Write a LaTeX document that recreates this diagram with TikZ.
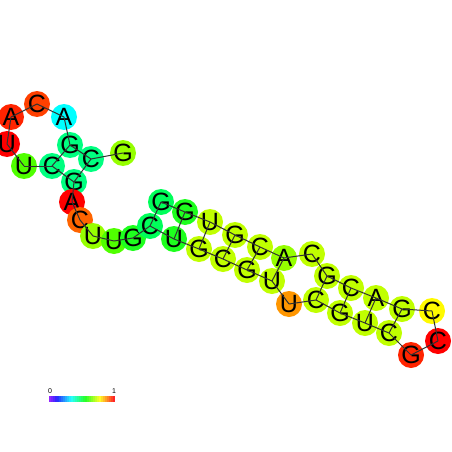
\documentclass[tikz,border=0pt]{standalone}
\usepackage{fontspec}
\setmainfont{Liberation Sans}
\usetikzlibrary{positioning}
\definecolor{rnaRed}{RGB}{255,0,0}
\definecolor{rnaScarlet}{RGB}{255,36,0}
\definecolor{rnaVermilion}{RGB}{255,64,0}
\definecolor{rnaTangerine}{RGB}{255,100,0}
\definecolor{rnaOrange}{RGB}{255,150,0}
\definecolor{rnaYellow}{RGB}{255,250,0}
\definecolor{rnaChartreuse}{RGB}{192,255,0}
\definecolor{rnaLime}{RGB}{150,255,0}
\definecolor{rnaLeaf}{RGB}{80,255,0}
\definecolor{rnaGreen}{RGB}{30,255,30}
\definecolor{rnaMint}{RGB}{0,255,90}
\definecolor{rnaSpring}{RGB}{0,255,128}
\definecolor{rnaCyan}{RGB}{0,255,255}
\definecolor{rnaLine}{RGB}{50,50,50}
\newcommand{\ntchar}[1]{\makebox[0pt]{\smash{\raisebox{-.5\height}{#1}}}}

\begin{document}
\begin{tikzpicture}[x=1pt, y=-1pt,
    ntbox/.style={circle, inner sep=0pt, minimum size=26pt,
                  font=\fontsize{25}{25}\selectfont},
    bond/.style={line width=1pt, rnaLine}
  ]
  \useasboundingbox (0,0) rectangle (452,452);
  % bases, 5' to 3'
  \node[ntbox, fill=rnaLime]       (nt1)  at (123,153) {\ntchar{G}};
  \node[ntbox, fill=rnaSpring]     (nt2)  at ( 91,159) {\ntchar{C}};
  \node[ntbox, fill=rnaSpring]     (nt3)  at ( 70,145) {\ntchar{G}};
  \node[ntbox, fill=rnaCyan]       (nt4)  at ( 64,117) {\ntchar{A}};
  \node[ntbox, fill=rnaVermilion]  (nt5)  at ( 37,104) {\ntchar{C}};
  \node[ntbox, fill=rnaScarlet]    (nt6)  at ( 11,117) {\ntchar{A}};
  \node[ntbox, fill=rnaRed]        (nt7)  at (  7,144) {\ntchar{U}};
  \node[ntbox, fill=rnaLeaf]       (nt8)  at ( 24,166) {\ntchar{U}};
  \node[ntbox, fill=rnaSpring]     (nt9)  at ( 52,166) {\ntchar{C}};
  \node[ntbox, fill=rnaSpring]     (nt10) at ( 74,182) {\ntchar{G}};
  \node[ntbox, fill=rnaRed]        (nt11) at ( 72,202) {\ntchar{A}};
  \node[ntbox, fill=rnaTangerine]  (nt12) at ( 80,220) {\ntchar{C}};
  \node[ntbox, fill=rnaLime]       (nt13) at ( 93,236) {\ntchar{U}};
  \node[ntbox, fill=rnaLeaf]       (nt14) at (114,241) {\ntchar{U}};
  \node[ntbox, fill=rnaGreen]      (nt15) at (133,238) {\ntchar{G}};
  \node[ntbox, fill=rnaMint]       (nt16) at (150,226) {\ntchar{C}};
  \node[ntbox, fill=rnaGreen]      (nt17) at (174,239) {\ntchar{U}};
  \node[ntbox, fill=rnaChartreuse] (nt18) at (199,249) {\ntchar{G}};
  \node[ntbox, fill=rnaChartreuse] (nt19) at (223,259) {\ntchar{C}};
  \node[ntbox, fill=rnaChartreuse] (nt20) at (247,270) {\ntchar{G}};
  \node[ntbox, fill=rnaChartreuse] (nt21) at (272,281) {\ntchar{U}};
  \node[ntbox, fill=rnaOrange]     (nt22) at (289,304) {\ntchar{U}};
  \node[ntbox, fill=rnaChartreuse] (nt23) at (316,300) {\ntchar{C}};
  \node[ntbox, fill=rnaChartreuse] (nt24) at (340,313) {\ntchar{G}};
  \node[ntbox, fill=rnaChartreuse] (nt25) at (365,323) {\ntchar{U}};
  \node[ntbox, fill=rnaChartreuse] (nt26) at (389,333) {\ntchar{C}};
  \node[ntbox, fill=rnaScarlet]    (nt27) at (411,355) {\ntchar{G}};
  \node[ntbox, fill=rnaRed]        (nt28) at (438,341) {\ntchar{C}};
  \node[ntbox, fill=rnaYellow]     (nt29) at (432,311) {\ntchar{C}};
  \node[ntbox, fill=rnaChartreuse] (nt30) at (402,309) {\ntchar{G}};
  \node[ntbox, fill=rnaChartreuse] (nt31) at (376,298) {\ntchar{A}};
  \node[ntbox, fill=rnaChartreuse] (nt32) at (351,288) {\ntchar{C}};
  \node[ntbox, fill=rnaChartreuse] (nt33) at (327,276) {\ntchar{G}};
  \node[ntbox, fill=rnaChartreuse] (nt34) at (312,254) {\ntchar{C}};
  \node[ntbox, fill=rnaLime]       (nt35) at (284,258) {\ntchar{A}};
  \node[ntbox, fill=rnaChartreuse] (nt36) at (260,247) {\ntchar{C}};
  \node[ntbox, fill=rnaChartreuse] (nt37) at (235,235) {\ntchar{G}};
  \node[ntbox, fill=rnaChartreuse] (nt38) at (210,222) {\ntchar{U}};
  \node[ntbox, fill=rnaGreen]      (nt39) at (185,212) {\ntchar{G}};
  \node[ntbox, fill=rnaMint]       (nt40) at (161,202) {\ntchar{G}};
  % backbone
  \foreach \i in {1,...,39} {
    \pgfmathtruncatemacro{\j}{\i+1}
    \draw[bond] (nt\i.center) -- (nt\j.center);
  }
  % base pairs
  \foreach \a/\b in {2/10, 3/9, 16/40, 17/39, 18/38, 19/37, 20/36, 21/35,
                     23/33, 24/32, 25/31, 26/30}
    \draw[bond] (nt\a.center) -- (nt\b.center);
  % colour key
  \foreach \k in {0,...,32} {
    \pgfmathsetmacro{\hue}{270-270*\k/32}
    \definecolor{keycol}{Hsb}{\hue,0.85,1}
    \fill[keycol] (49+2*\k,396) rectangle (51+2*\k,402);
  }
  \node[font=\fontsize{7}{7}\selectfont, inner sep=0pt] (keylo) at (50,391) {0};
  \node[font=\fontsize{7}{7}\selectfont, inner sep=0pt] (keyhi) at (114,391) {1};
\end{tikzpicture}
\end{document}
